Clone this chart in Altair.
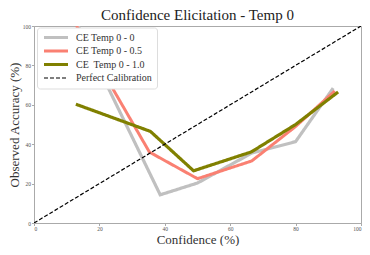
import altair as alt
import pandas as pd

series = ["CE Temp 0 - 0", "CE Temp 0 - 0.5", "CE\u00a0 Temp 0 - 1.0", "Perfect Calibration"]
colors = ["#c0c0c0", "#fa8072", "#808000", "#000000"]
dashes = [[1, 0], [1, 0], [1, 0], [4, 2]]
widths = [3.2, 3, 3.2, 1.2]

conf_t00 = [13.5, 38.6, 50, 66.6, 80, 91.5]
acc_t00 = [100, 14.3, 20.3, 35.5, 41.3, 68.5]
conf_t05 = [13, 35.3, 50, 66.6, 80, 92]
acc_t05 = [100, 36, 22.5, 31.5, 49, 67]
conf_t10 = [12.8, 35.6, 48.8, 66.5, 80, 93]
acc_t10 = [60.3, 46.5, 26.5, 36.1, 50, 66.5]
conf_diag = [0, 100]
acc_diag = [0, 100]

rows = []
for name, cs, acs in [(series[0], conf_t00, acc_t00), (series[1], conf_t05, acc_t05),
                      (series[2], conf_t10, acc_t10), (series[3], conf_diag, acc_diag)]:
    for i, (c, a) in enumerate(zip(cs, acs)):
        rows.append({"series": name, "conf": c, "acc": a, "idx": i})
df = pd.DataFrame(rows)

font = "Liberation Serif, Times New Roman, serif"

base = alt.Chart(df).mark_line(clip=True).encode(
    x=alt.X("conf:Q", scale=alt.Scale(domain=[0, 100], nice=False),
            axis=alt.Axis(title="Confidence (%)", values=[0, 20, 40, 60, 80, 100], grid=False)),
    y=alt.Y("acc:Q", scale=alt.Scale(domain=[0, 100], nice=False),
            axis=alt.Axis(title="Observed Accuracy (%)", values=[0, 20, 40, 60, 80, 100], grid=False)),
    order="idx:Q",
    color=alt.Color("series:N", scale=alt.Scale(domain=series, range=colors), title=None),
    strokeDash=alt.StrokeDash("series:N", scale=alt.Scale(domain=series, range=dashes), title=None),
    strokeWidth=alt.StrokeWidth("series:N", scale=alt.Scale(type="ordinal", domain=series, range=widths), title=None),
)

layers = [base.transform_filter(alt.datum.series == s) for s in series]

chart = alt.layer(*layers).properties(
    width=354, height=238,
    title=alt.TitleParams("Confidence Elicitation - Temp 0", font=font, fontSize=15,
                          fontWeight="normal", color="#222222", anchor="middle", offset=1),
    autosize=alt.AutoSizeParams(type="fit", contains="padding"),
    padding={"left": 0, "top": 0, "right": 0, "bottom": 0},
).configure_view(
    stroke="#aaaaaa", strokeWidth=1
).configure_axis(
    labelFont=font, labelFontSize=5.5, labelColor="#555555",
    titleFont=font, titleFontSize=13, titleFontWeight="normal", titleColor="#333333",
    domainColor="#aaaaaa", tickColor="#aaaaaa", tickSize=2.5, labelPadding=1,
).configure_axisX(
    titlePadding=1
).configure_axisY(
    titlePadding=1, labelAngle=0
).configure_legend(
    orient="none", legendX=3, legendY=1.5,
    symbolType="stroke", symbolSize=576, clipHeight=10, rowPadding=3.5,
    labelFont=font, labelFontSize=10, labelColor="#333333", labelOffset=6,
    padding=5, fillColor="white", strokeColor="#dddddd", cornerRadius=3,
)

chart.save("out.html", embed_options={"renderer": "svg", "actions": False})
